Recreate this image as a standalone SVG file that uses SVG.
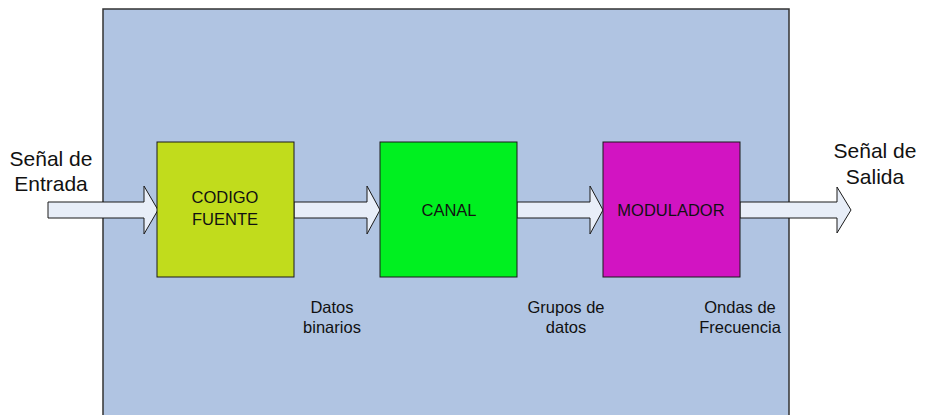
<svg xmlns="http://www.w3.org/2000/svg" width="927" height="415" viewBox="0 0 927 415">
<style>
.box{stroke:#1a1a1a;stroke-width:1}
.arr{fill:#e8eef8;stroke:#1a1a1a;stroke-width:1;stroke-linejoin:miter}
text{font-family:"Liberation Sans",Arial,sans-serif;fill:#111}
.big{font-size:21px}
.lbl{font-size:16.5px}
.sm{font-size:16.5px}
</style>
<rect x="0" y="0" width="927" height="415" fill="#ffffff"/>
<g id="frame"><rect x="103" y="9" width="686" height="410" fill="#b0c4e2" stroke="#333" stroke-width="1.5"/></g>
<g id="connectors">
<polygon class="arr" points="48,202 144,202 144,186 158,210 144,234 144,218 48,218"/>
<polygon class="arr" points="294,202 367,202 367,186 380,210 367,234 367,218 294,218"/>
<polygon class="arr" points="517,202 590,202 590,186 603,210 590,234 590,218 517,218"/>
<polygon class="arr" points="740,202 837,202 837,187 851,210 837,233 837,218 740,218"/>
</g>
<g id="codigo"><rect class="box" x="157" y="142" width="137" height="135" fill="#c1dc1c"/>
<text class="lbl" x="225" y="203" text-anchor="middle">CODIGO</text>
<text class="lbl" x="225" y="225" text-anchor="middle">FUENTE</text></g>
<g id="canal"><rect class="box" x="380" y="142" width="137" height="135" fill="#00f020"/>
<text class="lbl" x="449" y="216" text-anchor="middle">CANAL</text></g>
<g id="modulador"><rect class="box" x="603" y="142" width="137" height="135" fill="#d214c2"/>
<text class="lbl" x="671" y="216" text-anchor="middle">MODULADOR</text></g>
<g id="entrada"><text class="big" x="51" y="166" text-anchor="middle">Señal de</text>
<text class="big" x="51" y="191" text-anchor="middle">Entrada</text></g>
<g id="salida"><text class="big" x="875" y="158" text-anchor="middle">Señal de</text>
<text class="big" x="875" y="184" text-anchor="middle">Salida</text></g>
<g id="l1"><text class="sm" x="332" y="313" text-anchor="middle">Datos</text>
<text class="sm" x="332" y="333" text-anchor="middle">binarios</text></g>
<g id="l2"><text class="sm" x="566" y="313" text-anchor="middle">Grupos de</text>
<text class="sm" x="566" y="333" text-anchor="middle">datos</text></g>
<g id="l3"><text class="sm" x="740" y="313" text-anchor="middle">Ondas de</text>
<text class="sm" x="740" y="333" text-anchor="middle">Frecuencia</text></g>
</svg>
